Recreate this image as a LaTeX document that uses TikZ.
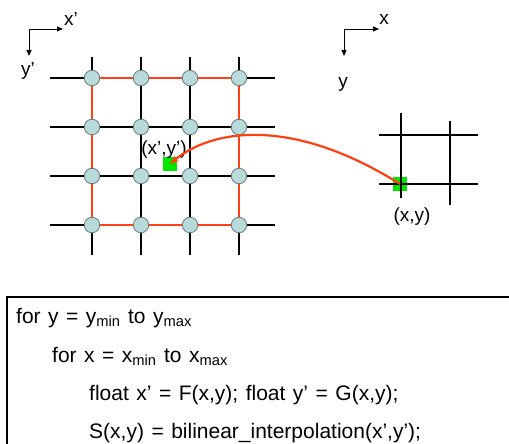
\documentclass[tikz,border=0pt]{standalone}
\usepackage{fontspec}
\setmainfont{Liberation Sans}
\usetikzlibrary{arrows.meta}
\definecolor{gridred}{RGB}{255,64,16}
\definecolor{nodefill}{RGB}{184,218,218}
\definecolor{nodeedge}{RGB}{105,125,125}
\definecolor{ptgreen}{RGB}{0,230,0}
\newcommand\mycodefont{\fontsize{21}{25}\selectfont\spaceskip=7.5pt plus 1pt\relax}
\begin{document}
\begin{tikzpicture}[x=1pt,y=-1pt,
  gline/.style={line width=2.6pt,black},
  rline/.style={line width=2.2pt,gridred},
  sample/.style={circle,draw=nodeedge,line width=0.8pt,fill=nodefill,minimum size=15.5pt,inner sep=0pt},
  gpt/.style={rectangle,fill=ptgreen,minimum size=14pt,inner sep=0pt},
  axis/.style={line width=0.9pt,-{Triangle[length=6pt,width=5pt]}},
  lbl/.style={font=\fontsize{19}{22}\selectfont,inner sep=0pt},
  code/.style={font={\mycodefont},inner sep=0pt,anchor=base west}]
\useasboundingbox (0,0) rectangle (509,444);
\clip (0,0) rectangle (509,444);
% axes
\coordinate (ao1) at (29,29);
\coordinate (ax1) at (63,29);
\coordinate (ay1) at (29,56);
\draw[axis] (ao1) -- (ax1);
\draw[axis] (ao1) -- (ay1);
\node[lbl] (tx1) at (71,19) {x’};
\node[lbl] (ty1) at (28,71) {y’};
\coordinate (ao2) at (344,29);
\coordinate (ax2) at (379,29);
\coordinate (ay2) at (344,56);
\draw[axis] (ao2) -- (ax2);
\draw[axis] (ao2) -- (ay2);
\node[lbl] (tx2) at (384,19) {x};
\node[lbl] (ty2) at (343,84) {y};
% left grid lines
\foreach \j/\y in {1/78,2/127,3/176,4/225}{
  \coordinate (hl-\j) at (50,\y);
  \coordinate (hr-\j) at (275,\y);
  \draw[gline] (hl-\j) -- (hr-\j);
}
\foreach \i/\x in {1/92,2/141,3/190,4/239}{
  \coordinate (vt-\i) at (\x,57);
  \coordinate (vb-\i) at (\x,255);
  \draw[gline] (vt-\i) -- (vb-\i);
}
\coordinate (r11) at (92,78);
\coordinate (r44) at (239,225);
\draw[rline] (r11) rectangle (r44);
\foreach \i/\x in {1/92,2/141,3/190,4/239}{
  \foreach \j/\y in {1/78,2/127,3/176,4/225}{
    \node[sample] (c-\i-\j) at (\x,\y) {};
  }
}
\node[gpt] (g1) at (170,164) {};
\node[lbl] (lg1) at (164,150) {(x’,y’)};
% right grid
\node[gpt] (g2) at (400,184) {};
\coordinate (rv1t) at (401,113);
\coordinate (rv1b) at (401,198);
\coordinate (rv2t) at (450,121);
\coordinate (rv2b) at (450,205);
\coordinate (rh1l) at (379,135);
\coordinate (rh1r) at (478,135);
\coordinate (rh2l) at (379,184);
\coordinate (rh2r) at (478,184);
\draw[gline] (rv1t) -- (rv1b);
\draw[gline] (rv2t) -- (rv2b);
\draw[gline] (rh1l) -- (rh1r);
\draw[gline] (rh2l) -- (rh2r);
\node[lbl] (lg2) at (412,217) {(x,y)};
% mapping curve
\draw[line width=2.2pt,gridred,-{Stealth[length=9pt,width=7pt]}] (g2.center) .. controls (290,115) and (210,130) .. (g1.center);
% code box
\coordinate (b1) at (7,297);
\coordinate (b2) at (530,470);
\draw[line width=2pt] (b1) rectangle (b2);
\node[code] (l1) at (16,323) {for y = y\textsubscript{min} to y\textsubscript{max}};
\node[code] (l2) at (52,362) {for x = x\textsubscript{min} to x\textsubscript{max}};
\node[code] (l3) at (89,400) {float x’ = F(x,y); float y’ = G(x,y);};
\node[code] (l4) at (89,438) {S(x,y) = bilinear\_interpolation(x’,y’);};
\end{tikzpicture}
\end{document}
